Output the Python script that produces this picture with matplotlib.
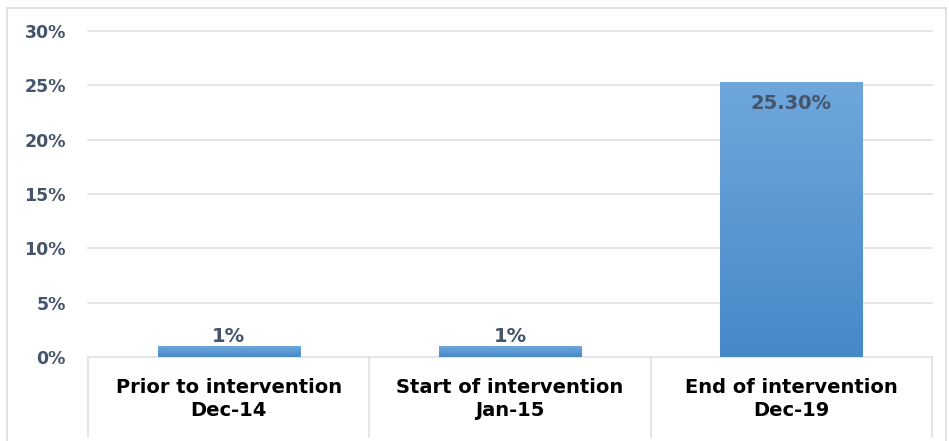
import numpy as np
import matplotlib; matplotlib.use('Agg')
import matplotlib.pyplot as plt
from matplotlib.colors import LinearSegmentedColormap
from matplotlib.lines import Line2D

categories = ['Prior to intervention\nDec-14', 'Start of intervention\nJan-15', 'End of intervention\nDec-19']
values = [1.0, 1.0, 25.3]
value_labels = ['1%', '1%', '25.30%']
yticks = [0, 5, 10, 15, 20, 25, 30]

W, H = 949, 441
fig = plt.figure(figsize=(W/100, H/100), dpi=100)
ax = fig.add_axes([88/W, (H-357)/H, (932-88)/W, (357-31)/H])

txt = '#44546a'
grid = '#dde1e7'
cmap = LinearSegmentedColormap.from_list('bar', ['#4689c9', '#6fa7dc'])
bw = 0.505
grad = np.linspace(0, 1, 256).reshape(-1, 1)
for i, v in enumerate(values):
    x0, x1 = i - bw/2, i + bw/2
    ax.imshow(grad, cmap=cmap, origin='lower', aspect='auto',
              extent=(x0, x1, 0, v), zorder=3, interpolation='bicubic')

ax.set_xlim(-0.5, 2.5)
ax.set_ylim(0, 30)
ax.set_yticks(yticks)
ax.set_yticklabels([f'{t}%' for t in yticks], fontsize=12.5, fontweight='bold', color=txt)
ax.tick_params(axis='y', length=0, pad=16)
ax.set_xticks([])
for t in yticks[1:]:
    ax.axhline(t, color=grid, lw=1.2, zorder=0, clip_on=False)
for s in ['top', 'right', 'left']:
    ax.spines[s].set_visible(False)
ax.spines['bottom'].set_color(grid)
ax.spines['bottom'].set_linewidth(1.2)

# value labels
for i, (v, lab) in enumerate(zip(values, value_labels)):
    if v > 5:
        ax.text(i, v - 2.0, lab, ha='center', va='center', fontsize=14,
                fontweight='bold', color=txt, zorder=5)
    else:
        ax.text(i, v + 0.05, lab, ha='center', va='bottom', fontsize=14,
                fontweight='bold', color=txt, zorder=5)

# category labels and separators below the axis
for i, c in enumerate(categories):
    ax.text(i, -1.9, c, ha='center', va='top', fontsize=14, fontweight='bold',
            color='black', linespacing=1.3)
for xs in [-0.5, 0.5, 1.5, 2.5]:
    ax.plot([xs, xs], [0, -7.4], color=grid, lw=1.2, clip_on=False)

# outer frame
fc = '#d9dde3'
for xs, ys in [((7/W, 7/W), (0, 1-8/H)), ((7/W, 946/W), (1-8/H, 1-8/H)),
               ((946/W, 946/W), (0, 1-8/H))]:
    fig.add_artist(Line2D(xs, ys, color=fc, lw=1.2, transform=fig.transFigure))

plt.savefig('out.png', dpi=100)
